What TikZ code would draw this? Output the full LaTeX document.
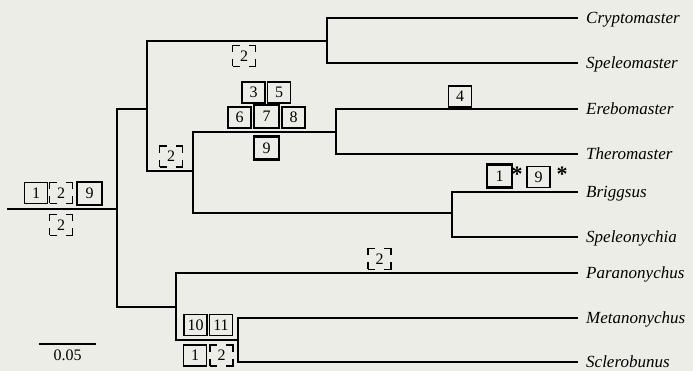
\documentclass[tikz,border=0pt]{standalone}
\usepackage{fontspec}
\setmainfont{Liberation Serif}
\definecolor{bg}{RGB}{237,237,231}
\begin{document}
\begin{tikzpicture}[x=1pt,y=-1pt,
 br/.style={line width=2pt},
 lab/.style={anchor=base west, inner sep=0pt, font=\fontsize{17}{19}\selectfont\itshape},
 cb/.style={draw, line width=1.2pt, minimum width=23pt, minimum height=21pt, inner sep=0pt, font=\fontsize{16}{18}\selectfont},
 tb/.style={cb, line width=2.6pt, minimum width=25pt, minimum height=23pt},
 db/.style={cb, dash pattern=on 14pt off 9pt on 14pt off 7pt on 14pt off 9pt on 14pt off 7pt, dash phase=7pt},
 star/.style={anchor=north, inner sep=0pt, font=\fontsize{22}{24}\selectfont\bfseries}]
\fill[bg] (0,0) rectangle (693,371);
\useasboundingbox (0,0) rectangle (693,371);
% tree nodes
\coordinate (r0) at (7,209);
\coordinate (r) at (117,209);
\coordinate (A) at (147,109);
\coordinate (B) at (327,41);
\coordinate (C) at (193,171);
\coordinate (D) at (336,132);
\coordinate (E) at (452,213);
\coordinate (F) at (176,307);
\coordinate (G) at (238,340);
\coordinate (tCry) at (578,18);
\coordinate (tSpe) at (578,63);
\coordinate (tEre) at (578,109);
\coordinate (tThe) at (578,154);
\coordinate (tBri) at (578,192);
\coordinate (tSpn) at (578,237);
\coordinate (tPar) at (578,273);
\coordinate (tMet) at (578,318);
\coordinate (tScl) at (578,362);
\draw[br] (r0) -- (r);
\draw[br] (r) |- (A);
\draw[br] (r) |- (F);
\draw[br] (A) |- (B);
\draw[br] (A) |- (C);
\draw[br] (B) |- (tCry);
\draw[br] (B) |- (tSpe);
\draw[br] (C) |- (D);
\draw[br] (C) |- (E);
\draw[br] (D) |- (tEre);
\draw[br] (D) |- (tThe);
\draw[br] (E) |- (tBri);
\draw[br] (E) |- (tSpn);
\draw[br] (F) |- (tPar);
\draw[br] (F) |- (G);
\draw[br] (G) |- (tMet);
\draw[br] (G) |- (tScl);
% tip labels
\node[lab] (lCry) at ([xshift=8pt,yshift=-5.5pt]tCry) {Cryptomaster};
\node[lab] (lSpe) at ([xshift=8pt,yshift=-5.5pt]tSpe) {Speleomaster};
\node[lab] (lEre) at ([xshift=8pt,yshift=-5.5pt]tEre) {Erebomaster};
\node[lab] (lThe) at ([xshift=8pt,yshift=-5.5pt]tThe) {Theromaster};
\node[lab] (lBri) at ([xshift=8pt,yshift=-5.5pt]tBri) {Briggsus};
\node[lab] (lSpn) at ([xshift=8pt,yshift=-5.5pt]tSpn) {Speleonychia};
\node[lab] (lPar) at ([xshift=8pt,yshift=-5.5pt]tPar) {Paranonychus};
\node[lab] (lMet) at ([xshift=8pt,yshift=-5.5pt]tMet) {Metanonychus};
\node[lab] (lScl) at ([xshift=8pt,yshift=-5.5pt]tScl) {Sclerobunus};
% character boxes
\node[cb] (rb1) at (36,193) {1};
\node[db] (rb2) at (61,193) {2};
\node[tb] (rb9) at (89.5,193.5) {9};
\node[db] (rb2b) at (61,225) {2};
\node[db] (ab2) at (244,56) {2};
\node[db] (cb2) at (171,156.5) {2};
\node[cb] (b3) at (253.5,92.5) {3};
\node[cb] (b5) at (279,92.5) {5};
\node[cb] (b6) at (239.5,117.5) {6};
\node[tb] (b7) at (266.5,116.5) {7};
\node[cb] (b8) at (293.5,117.5) {8};
\node[tb] (b9) at (266.5,148) {9};
\node[cb] (b4) at (460,96.5) {4};
\node[tb] (e1) at (499.5,176) {1};
\node[star] (s1) at (517,167) {*};
\node[cb] (e9) at (538.5,177) {9};
\node[star] (s2) at (562,167) {*};
\node[db] (p2) at (379.5,259) {2};
\node[cb] (f10) at (195.5,325) {10};
\node[cb] (f11) at (221,325) {11};
\node[cb] (f1) at (195,355.5) {1};
\node[db] (f2) at (221.5,355.5) {2};
% scale bar
\coordinate (sc1) at (39,344);
\coordinate (sc2) at (96,344);
\draw[line width=1.6pt] (sc1) -- (sc2);
\node[inner sep=0pt, font=\fontsize{16}{18}\selectfont] (scl) at (67.5,355.5) {0.05};
\end{tikzpicture}
\end{document}
